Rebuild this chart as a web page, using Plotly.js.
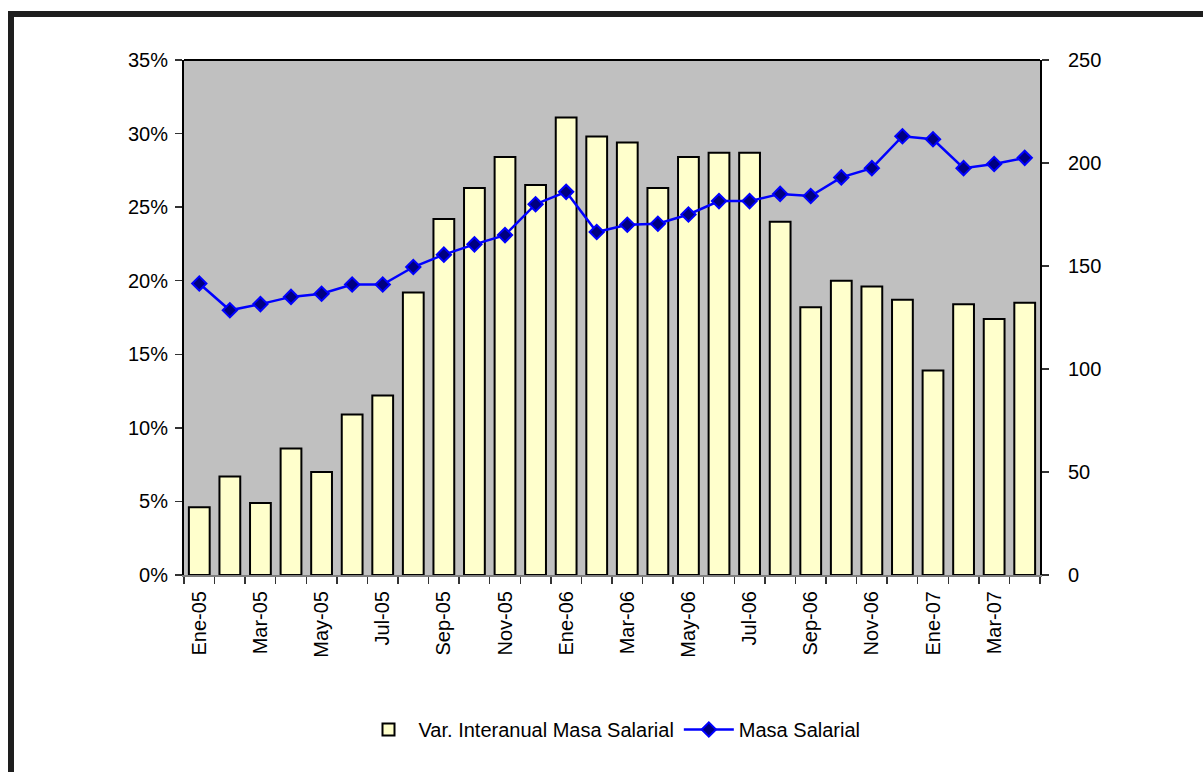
<!DOCTYPE html>
<html>
<head>
<meta charset="utf-8">
<script src="https://cdn.plot.ly/plotly-3.0.1.min.js"></script>
<style>
  html, body { margin: 0; padding: 0; background: #ffffff; overflow: hidden; }
  #frame { position: absolute; left: 8px; top: 11px; width: 1300px; height: 900px;
           border-top: 6px solid #1e1e1e; border-left: 6px solid #1e1e1e; box-sizing: border-box; }
  #chart { position: absolute; left: 0; top: 0; width: 1203px; height: 772px; }
</style>
</head>
<body>
<div id="chart"></div>
<div id="frame"></div>
<script>
// Months (Spanish abbreviations)
const months = ["Ene-05","Feb-05","Mar-05","Abr-05","May-05","Jun-05","Jul-05","Ago-05","Sep-05","Oct-05","Nov-05","Dic-05",
                "Ene-06","Feb-06","Mar-06","Abr-06","May-06","Jun-06","Jul-06","Ago-06","Sep-06","Oct-06","Nov-06","Dic-06",
                "Ene-07","Feb-07","Mar-07","Abr-07"];
// Var. Interanual Masa Salarial (%)
const varInteranual = [4.6, 6.7, 4.9, 8.6, 7.0, 10.9, 12.2, 19.2, 24.2, 26.3, 28.4, 26.5,
                       31.1, 29.8, 29.4, 26.3, 28.4, 28.7, 28.7, 24.0, 18.2, 20.0, 19.6, 18.7,
                       13.9, 18.4, 17.4, 18.5];
// Masa Salarial (index)
const masaSalarial = [141.5, 128.5, 131.5, 135, 136.5, 141, 141, 149.5, 155.5, 160.5, 165, 180,
                      186, 166.5, 170, 170.5, 175, 181.5, 181.5, 185, 184, 193, 197.5, 213,
                      211.5, 197.5, 199.5, 202.5];
const tickText = months.map((m, i) => (i % 2 === 0 ? m : ""));

const FONT = "Arial, 'Liberation Sans', sans-serif";
const FS = 20;

const traces = [
  {
    type: "bar",
    name: "Var. Interanual Masa Salarial",
    x: months,
    y: varInteranual,
    marker: { color: "#FFFFCC", line: { color: "#000000", width: 2 } },
    hoverinfo: "x+y"
  },
  {
    type: "scatter",
    mode: "lines+markers",
    name: "Masa Salarial",
    x: months,
    y: masaSalarial,
    yaxis: "y2",
    line: { color: "#0000FF", width: 2.5 },
    marker: { symbol: "diamond", size: 11, color: "#000080", line: { color: "#0000FF", width: 2 } }
  }
];

const layout = {
  width: 1203,
  height: 772,
  margin: { l: 184, r: 163, t: 60, b: 197 },
  paper_bgcolor: "#FFFFFF",
  plot_bgcolor: "#C0C0C0",
  font: { family: FONT, size: FS, color: "#000000" },
  bargap: 0.32,
  showlegend: true,
  legend: {
    orientation: "h",
    x: 0.5, xanchor: "center",
    y: -0.30, yanchor: "middle",
    itemwidth: 50,
    font: { family: FONT, size: FS, color: "#000000" },
    bgcolor: "rgba(0,0,0,0)"
  },
  xaxis: {
    type: "category",
    range: [-0.5, months.length - 0.5],
    autorange: false,
    tickmode: "array",
    tickvals: months,
    ticktext: tickText,
    tickangle: -90,
    tickson: "boundaries",
    ticks: "outside",
    ticklen: 7,
    tickwidth: 1.5,
    tickcolor: "#333333",
    showline: true,
    linecolor: "#808080",
    linewidth: 2,
    showgrid: false,
    zeroline: false,
    ticklabelstandoff: 6,
    tickfont: { family: FONT, size: FS, color: "#000000" }
  },
  yaxis: {
    range: [0, 35],
    autorange: false,
    dtick: 5,
    ticksuffix: "%",
    ticks: "outside",
    ticklen: 7,
    tickwidth: 1.5,
    tickcolor: "#333333",
    showline: true,
    linecolor: "#000000",
    linewidth: 2,
    showgrid: false,
    zeroline: false,
    ticklabelstandoff: 3,
    tickfont: { family: FONT, size: FS, color: "#000000" }
  },
  yaxis2: {
    overlaying: "y",
    side: "right",
    range: [0, 250],
    autorange: false,
    dtick: 50,
    ticks: "outside",
    ticklen: 7,
    tickwidth: 1.5,
    tickcolor: "#333333",
    showline: true,
    linecolor: "#000000",
    linewidth: 2,
    showgrid: false,
    zeroline: false,
    ticklabelstandoff: 15,
    tickfont: { family: FONT, size: FS, color: "#000000" }
  },
  shapes: [
    { type: "line", xref: "paper", yref: "paper", x0: 0, x1: 1, y0: 1, y1: 1,
      line: { color: "#000000", width: 2 } }
  ]
};

Plotly.newPlot("chart", traces, layout, { displayModeBar: false, staticPlot: true });
</script>
</body>
</html>
